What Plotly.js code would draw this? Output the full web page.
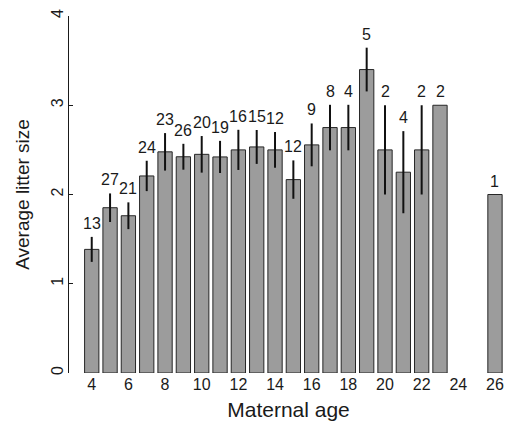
<!DOCTYPE html>
<html>
<head>
<meta charset="utf-8">
<script src="https://cdn.plot.ly/plotly-3.0.1.min.js"></script>
<style>html,body{margin:0;padding:0;background:#fff;}#chart{width:508px;height:427px;}</style>
</head>
<body>
<div id="chart"></div>
<script>
const ages = [4, 5, 6, 7, 8, 9, 10, 11, 12, 13, 14, 15, 16, 17, 18, 19, 20, 21, 22, 23, 26];
const meanLitter = [1.385, 1.852, 1.762, 2.208, 2.478, 2.423, 2.45, 2.421, 2.5, 2.533, 2.5, 2.167, 2.556, 2.75, 2.75, 3.4, 2.5, 2.25, 2.5, 3.0, 2.0];
const seLitter = [0.14, 0.16, 0.15, 0.17, 0.21, 0.145, 0.205, 0.18, 0.225, 0.19, 0.2, 0.215, 0.24, 0.255, 0.255, 0.245, 0.5, 0.46, 0.5, 0, 0];
const nLitters = [13, 27, 21, 24, 23, 26, 20, 19, 16, 15, 12, 12, 9, 8, 4, 5, 2, 4, 2, 2, 1];
const xTicks = [4, 6, 8, 10, 12, 14, 16, 18, 20, 22, 24, 26];
const yTicks = [0, 1, 2, 3, 4];

const FONT = 'Liberation Sans, Arial, Helvetica, sans-serif';
const INK = '#1a1a1a';

const bars = {
  type: 'bar',
  x: ages,
  y: meanLitter,
  width: 0.78,
  marker: {color: '#9c9c9c', line: {color: '#262626', width: 1}},
  error_y: {type: 'data', array: seLitter, visible: true, width: 0, thickness: 2, color: '#111111'},
  hoverinfo: 'skip',
  cliponaxis: false
};

const countLabels = ages.map((a, i) => ({
  x: a,
  y: meanLitter[i] + seLitter[i],
  xref: 'x',
  yref: 'y',
  text: String(nLitters[i]),
  showarrow: false,
  xanchor: 'center',
  yanchor: 'bottom',
  yshift: 3,
  font: {family: FONT, size: 16, color: INK}
}));

const layout = {
  width: 508,
  height: 427,
  margin: {l: 69, r: 0, t: 16, b: 54},
  paper_bgcolor: '#ffffff',
  plot_bgcolor: '#ffffff',
  showlegend: false,
  font: {family: FONT, size: 16, color: INK},
  annotations: countLabels,
  xaxis: {
    range: [2.76, 26.71],
    tickvals: xTicks,
    ticktext: xTicks.map(String),
    ticks: '',
    showline: false,
    showgrid: false,
    zeroline: false,
    tickfont: {family: FONT, size: 16, color: INK},
    title: {text: 'Maternal age', font: {family: FONT, size: 21, color: INK}, standoff: 10}
  },
  yaxis: {
    range: [0, 4],
    tickvals: yTicks,
    ticktext: yTicks.map(String),
    tickangle: -90,
    ticks: 'inside',
    ticklen: 4,
    tickwidth: 1,
    tickcolor: INK,
    ticklabelstandoff: -1,
    showline: true,
    linecolor: INK,
    linewidth: 1,
    showgrid: false,
    zeroline: false,
    tickfont: {family: FONT, size: 16, color: INK},
    title: {text: 'Average litter size', font: {family: FONT, size: 19, color: INK}, standoff: 13}
  }
};

Plotly.newPlot('chart', [bars], layout, {displayModeBar: false, staticPlot: true});
</script>
</body>
</html>
